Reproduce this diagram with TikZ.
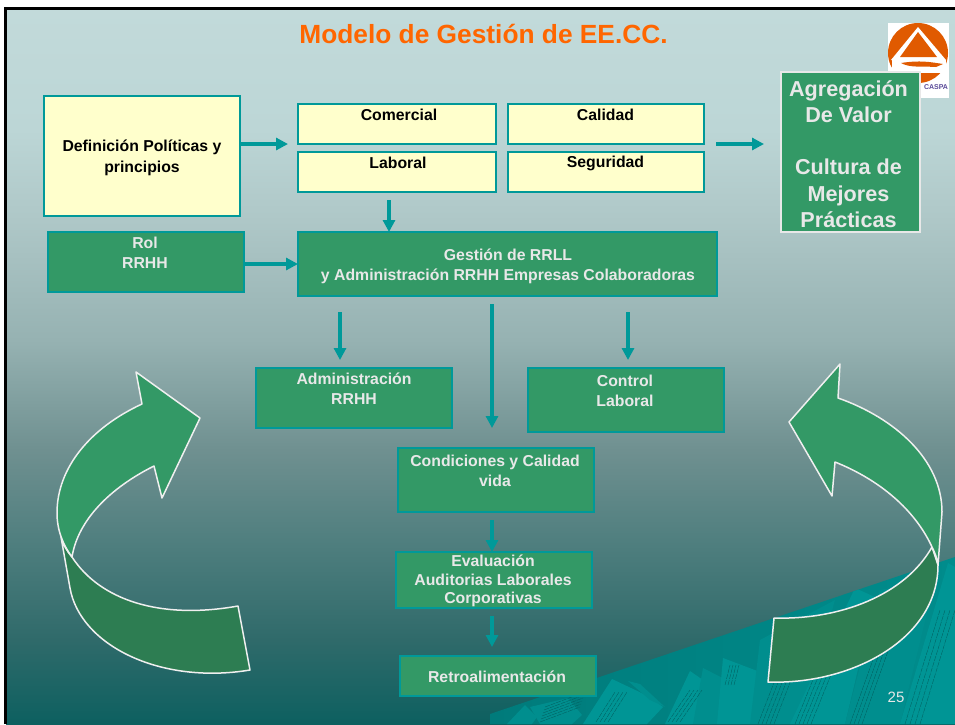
\documentclass[tikz,border=0pt]{standalone}
\usepackage{fontspec}
\setmainfont{Liberation Sans}
\usetikzlibrary{arrows.meta}
\definecolor{teal1}{HTML}{009999}
\definecolor{boxgreen}{HTML}{339966}
\definecolor{darkgreen}{HTML}{2D7D52}
\definecolor{paleyellow}{HTML}{FFFFCC}
\definecolor{paletext}{HTML}{E8E8E8}
\definecolor{curveline}{HTML}{EFEFEF}
\definecolor{shardA}{HTML}{008E8E}
\definecolor{shardB}{HTML}{009595}
\definecolor{hatchc}{HTML}{005F5F}
\definecolor{logoorange}{HTML}{E05A00}
\definecolor{logopurple}{HTML}{5A4A98}
\definecolor{wedgeL}{HTML}{007B7B}
\definecolor{wedgeR}{HTML}{008C8C}
\definecolor{titleorange}{HTML}{FF6600}
\pgfdeclareverticalshading{slidebg}{100bp}{
 rgb(0bp)=(.051,.376,.376);
 rgb(25bp)=(.051,.376,.376);
 rgb(30.87bp)=(.184,.416,.416);
 rgb(37.85bp)=(.314,.498,.498);
 rgb(44.13bp)=(.435,.565,.565);
 rgb(51.8bp)=(.588,.698,.698);
 rgb(60.5bp)=(.686,.784,.784);
 rgb(66.5bp)=(.737,.839,.839);
 rgb(75bp)=(.761,.855,.855);
 rgb(100bp)=(.761,.855,.855)}
\tikzset{
 ybox/.style={draw=teal1,fill=paleyellow,line width=1.6pt,anchor=north west,inner sep=0pt,outer sep=0pt},
 gbox/.style={draw=teal1,fill=boxgreen,line width=1.6pt,anchor=north west,inner sep=0pt,outer sep=0pt},
 ytxt/.style={font=\fontsize{15.8}{21}\selectfont\bfseries,text=black,align=center,inner sep=0pt},
 gtxt/.style={font=\fontsize{15.8}{20}\selectfont\bfseries,text=paletext,align=center,inner sep=0pt},
 arr/.style={draw=teal1,line width=3.7pt,-{Triangle[length=12pt,width=12pt]}},
 curve/.style={draw=curveline,line width=1.5pt,line join=round},
 hatchline/.style={draw=hatchc,line width=0.35pt,dash pattern=on 5pt off 1pt}
}
\begin{document}
\begin{tikzpicture}[x=1pt,y=-1pt]
\useasboundingbox (0,0) rectangle (955,724);
\fill[white] (0,0) rectangle (955,724);
\shade[shading=slidebg] (6,8) rectangle (955,724);
% wedge and paper shards
\begin{scope}
\clip (490,714) -- (955,557) -- (955,724) -- (490,724) -- cycle;
\shade[left color=wedgeL,right color=wedgeR] (490,557) rectangle (955,724);
\fill[shardA] (507,724) -- (525,705) -- (537,717) -- (532,724) -- cycle;
\fill[shardA] (530,707) -- (568,698) -- (582,715) -- (572,724) -- (540,724) -- cycle;
\fill[shardB] (583,724) -- (612,679) -- (650,697) -- (663,707) -- (647,724) -- cycle;
\fill[shardA] (628,681) -- (640,684) -- (665,707) -- (650,700) -- cycle;
\fill[shardB] (665,724) -- (690,671) -- (713,687) -- (693,724) -- cycle;
\fill[shardA] (693,724) -- (703,668) -- (740,687) -- (717,724) -- cycle;
\fill[shardB] (717,724) -- (723,658) -- (768,675) -- (750,724) -- cycle;
\fill[shardA] (750,724) -- (760,640) -- (835,600) -- (800,724) -- cycle;
\fill[shardB] (790,724) -- (855,588) -- (875,597) -- (845,724) -- cycle;
\fill[shardA] (845,724) -- (880,590) -- (935,580) -- (900,724) -- cycle;
\fill[shardB] (900,724) -- (948,563) -- (955,567) -- (955,724) -- cycle;
\foreach \i in {0,...,5} \draw[hatchline] (540+\i*1,722-\i*3) -- (580+\i*1,707-\i*3);
\foreach \i in {0,...,3} \draw[hatchline] (596+\i*4,722) -- (615+\i*4,692);
\foreach \i in {0,...,3} \draw[hatchline] (668+\i*4,722) -- (690+\i*4,690);
\foreach \i in {0,...,3} \draw[hatchline] (725+\i*3,685) -- (730+\i*3,665);
\foreach \i in {0,...,4} \draw[hatchline] (758+\i*4,724) -- (775+\i*4,680);
\foreach \i in {0,...,4} \draw[hatchline] (795+\i*4,724) -- (825+\i*4,650);
\foreach \i in {0,...,3} \draw[hatchline] (850+\i*4,724) -- (880+\i*4,640);
\foreach \i in {0,...,3} \draw[hatchline] (905+\i*5,724) -- (940+\i*5,610);
\end{scope}
% logo
\fill[white] (888,23) rectangle (949,98);
\fill[logoorange] (918,53) circle (30);
\fill[white] (918,27) -- (946,60) -- (891,60) -- cycle;
\fill[logoorange] (918,32) -- (937,57) -- (900,57) -- cycle;
\fill[white] (892,60) rectangle (946,73);
\fill[logoorange] (901,63) .. controls (920,60) and (930,62) .. (943,64) -- (936,67) .. controls (920,66) and (910,68) .. (901,63) -- cycle;
\node[font=\fontsize{7}{8}\selectfont\bfseries,text=logopurple,inner sep=0pt] (logotext) at (936,87) {CASPA};
% left curved arrow
\path[fill=darkgreen,curve] (61,537) -- (70,588) .. controls (80,645) and (160,685) .. (250,670) -- (238,606) .. controls (160,620) and (100,600) .. (72,557) .. controls (67,551) and (63,545) .. (61,537) -- cycle;
\path[fill=boxgreen,curve] (142,404) .. controls (90,428) and (57,468) .. (57,513) .. controls (57,530) and (63,545) .. (72,557) .. controls (78,520) and (110,488) .. (154,466) -- (162,498) -- (200,418) -- (136,372) -- cycle;
% right curved arrow
\path[fill=darkgreen,curve] (774,618) -- (768,682) .. controls (850,685) and (938,640) .. (938,565) -- (932,547) .. controls (905,595) and (840,620) .. (774,618) -- cycle;
\path[fill=boxgreen,curve] (838,398) .. controls (895,418) and (942,460) .. (942,512) -- (938,565) .. controls (937,558) and (935,553) .. (932,547) .. controls (915,510) and (880,480) .. (835,462) -- (832,496) -- (789,422) -- (840,364) -- cycle;
% boxes
\node[ybox,minimum width=196pt,minimum height=120pt] (def) at (44,96) {};
\node[ybox,minimum width=198pt,minimum height=40pt] (com) at (298,104) {};
\node[ybox,minimum width=196pt,minimum height=40pt] (cal) at (508,104) {};
\node[ybox,minimum width=198pt,minimum height=40pt] (lab) at (298,152) {};
\node[ybox,minimum width=196pt,minimum height=40pt] (seg) at (508,152) {};
\node[gbox,minimum width=196pt,minimum height=60pt] (rol) at (48,232) {};
\node[gbox,minimum width=419pt,minimum height=64pt] (ges) at (298,232) {};
\node[gbox,minimum width=196pt,minimum height=60pt] (adm) at (256,368) {};
\node[gbox,minimum width=196pt,minimum height=64pt] (ctl) at (528,368) {};
\node[gbox,minimum width=196pt,minimum height=64pt] (cnd) at (398,448) {};
\node[gbox,minimum width=196pt,minimum height=56pt] (eva) at (396,552) {};
\node[gbox,minimum width=196pt,minimum height=40pt] (ret) at (400,656) {};
\node[draw=paletext,fill=boxgreen,line width=1.6pt,anchor=north west,inner sep=0pt,outer sep=0pt,minimum width=139pt,minimum height=160pt] (agr) at (781,72) {};
% texts
\node[font=\fontsize{26.3}{30}\selectfont\bfseries,text=titleorange,inner sep=0pt] (title) at (483.5,33.5) {Modelo de Gestión de EE.CC.};
\node[ytxt] (tdef) at (142,157.5) {Definición Políticas y\\principios};
\node[ytxt] (tcom) at (399,114.5) {Comercial};
\node[ytxt] (tcal) at (605.5,114.5) {Calidad};
\node[ytxt] (tlab) at (398,162.5) {Laboral};
\node[ytxt] (tseg) at (605.5,163.5) {Seguridad};
\node[gtxt] (trol) at (145,253) {Rol\\RRHH};
\node[gtxt] (tges) at (508,266) {Gestión de RRLL\\y Administración RRHH Empresas Colaboradoras};
\node[gtxt] (tadm) at (354,389) {Administración\\RRHH};
\node[gtxt] (tctl) at (625,391) {Control\\Laboral};
\node[gtxt] (tcnd) at (495,471) {Condiciones y Calidad\\vida};
\node[gtxt,font=\fontsize{15.8}{18.7}\selectfont\bfseries] (teva) at (493,581) {Evaluación\\Auditorias Laborales\\Corporativas};
\node[gtxt] (tret) at (497,677) {Retroalimentación};
\node[font=\fontsize{21.6}{26.3}\selectfont\bfseries,text=paletext,align=center,inner sep=0pt] (tagr) at (848.5,154) {Agregación\\De Valor\\[26.3pt]Cultura de\\Mejores\\Prácticas};
\node[font=\fontsize{15}{18}\selectfont,text=paletext,inner sep=0pt] (page) at (896,697) {25};
% connectors
\draw[arr] ([yshift=12pt]def.east) -- ([xshift=-10pt]com.south west);
\draw[arr] ([xshift=12pt]cal.south east) -- ([xshift=-17pt,yshift=8pt]agr.west);
\coordinate (c1) at ([xshift=-8pt,yshift=-8pt]lab.south);
\draw[arr] (c1) -- (c1 |- ges.north);
\draw[arr] ([yshift=-2pt]rol.east) -- ([yshift=-2pt]rol.east -| ges.west);
\coordinate (c2) at ([xshift=-167.5pt,yshift=-16pt]ges.south);
\draw[arr] (c2) -- ([yshift=8pt]c2 |- adm.north);
\coordinate (c3) at ([xshift=-15.5pt,yshift=-8pt]ges.south);
\draw[arr] (c3) -- ([yshift=20pt]c3 |- cnd.north);
\coordinate (c4) at ([xshift=120.5pt,yshift=-16pt]ges.south);
\draw[arr] (c4) -- ([yshift=8pt]c4 |- ctl.north);
\coordinate (c5) at ([xshift=-4pt,yshift=-8pt]cnd.south);
\draw[arr] (c5) -- (c5 |- eva.north);
\coordinate (c6) at ([xshift=-2pt,yshift=-8pt]eva.south);
\draw[arr] (c6) -- ([yshift=9pt]c6 |- ret.north);
% slide frame
\draw[black,line width=2.8pt] (5.5,724) -- (5.5,8.3) -- (955,8.3);
\end{tikzpicture}
\end{document}
